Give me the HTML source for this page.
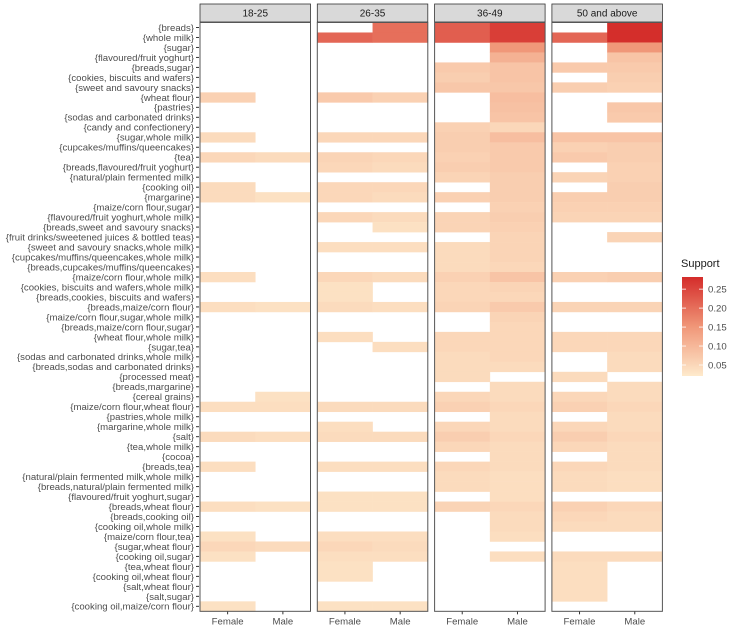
<!DOCTYPE html>
<html><head><meta charset="utf-8"><style>
html,body{margin:0;padding:0;background:#fff;}
svg{display:block;font-family:"Liberation Sans",sans-serif;}
</style></head><body>
<svg id="chart" width="730" height="630" viewBox="0 0 730 630" xmlns="http://www.w3.org/2000/svg"></svg>
<script>
const itemsets = ["{breads}","{whole milk}","{sugar}","{flavoured/fruit yoghurt}","{breads,sugar}","{cookies, biscuits and wafers}","{sweet and savoury snacks}","{wheat flour}","{pastries}","{sodas and carbonated drinks}","{candy and confectionery}","{sugar,whole milk}","{cupcakes/muffins/queencakes}","{tea}","{breads,flavoured/fruit yoghurt}","{natural/plain fermented milk}","{cooking oil}","{margarine}","{maize/corn flour,sugar}","{flavoured/fruit yoghurt,whole milk}","{breads,sweet and savoury snacks}","{fruit drinks/sweetened juices & bottled teas}","{sweet and savoury snacks,whole milk}","{cupcakes/muffins/queencakes,whole milk}","{breads,cupcakes/muffins/queencakes}","{maize/corn flour,whole milk}","{cookies, biscuits and wafers,whole milk}","{breads,cookies, biscuits and wafers}","{breads,maize/corn flour}","{maize/corn flour,sugar,whole milk}","{breads,maize/corn flour,sugar}","{wheat flour,whole milk}","{sugar,tea}","{sodas and carbonated drinks,whole milk}","{breads,sodas and carbonated drinks}","{processed meat}","{breads,margarine}","{cereal grains}","{maize/corn flour,wheat flour}","{pastries,whole milk}","{margarine,whole milk}","{salt}","{tea,whole milk}","{cocoa}","{breads,tea}","{natural/plain fermented milk,whole milk}","{breads,natural/plain fermented milk}","{flavoured/fruit yoghurt,sugar}","{breads,wheat flour}","{breads,cooking oil}","{cooking oil,whole milk}","{maize/corn flour,tea}","{sugar,wheat flour}","{cooking oil,sugar}","{tea,wheat flour}","{cooking oil,wheat flour}","{salt,wheat flour}","{salt,sugar}","{cooking oil,maize/corn flour}"];
const ageGroups = ["18-25","26-35","36-49","50 and above"];
const genders = ["Female","Male"];
const legendTicks = [0.05,0.10,0.15,0.20,0.25];
// support values keyed by row number (1-based), missing = no rule
const s1825F = {8:0.06,12:0.045,14:0.05,17:0.045,18:0.045,26:0.04,29:0.04,39:0.04,42:0.045,45:0.04,49:0.04,52:0.035,53:0.05,54:0.035,59:0.035};
const s1825M = {14:0.045,18:0.035,29:0.035,38:0.035,39:0.04,42:0.04,49:0.035,53:0.045};
const s2635F = {2:0.21,8:0.07,12:0.05,14:0.055,15:0.05,17:0.05,18:0.05,20:0.05,23:0.04,26:0.05,27:0.035,28:0.035,29:0.045,32:0.04,39:0.045,41:0.04,42:0.045,45:0.04,48:0.035,49:0.035,52:0.04,53:0.05,54:0.04,55:0.035,56:0.035,59:0.035};
const s2635M = {1:0.2,2:0.2,8:0.06,12:0.05,14:0.05,15:0.045,17:0.05,18:0.045,20:0.045,21:0.035,23:0.04,26:0.045,29:0.04,33:0.04,39:0.045,42:0.045,45:0.04,48:0.035,49:0.035,52:0.04,53:0.045,54:0.04,59:0.035};
const s3649F = {1:0.22,2:0.22,5:0.07,6:0.065,7:0.075,11:0.06,12:0.065,13:0.065,14:0.06,15:0.065,16:0.055,18:0.06,20:0.055,21:0.055,23:0.045,24:0.045,25:0.045,26:0.06,27:0.05,28:0.05,29:0.055,32:0.05,33:0.05,34:0.045,35:0.045,36:0.045,38:0.05,39:0.06,41:0.05,42:0.065,43:0.05,45:0.05,46:0.045,47:0.045,49:0.055};
const s3649M = {1:0.26,2:0.26,3:0.15,4:0.11,5:0.08,6:0.08,7:0.075,8:0.09,9:0.085,10:0.08,11:0.05,12:0.09,13:0.07,14:0.07,15:0.07,16:0.065,17:0.065,18:0.065,19:0.06,20:0.065,21:0.06,22:0.055,23:0.055,24:0.055,25:0.05,26:0.08,27:0.055,28:0.05,29:0.07,30:0.055,31:0.05,32:0.05,33:0.05,34:0.05,35:0.045,37:0.045,38:0.045,39:0.05,40:0.045,41:0.045,42:0.05,43:0.045,44:0.045,45:0.045,46:0.04,47:0.04,48:0.04,49:0.05,50:0.045,51:0.045,52:0.04,54:0.04};
const s50F = {2:0.21,5:0.07,7:0.065,12:0.08,13:0.06,14:0.07,16:0.055,18:0.065,19:0.06,20:0.055,26:0.06,29:0.055,32:0.05,33:0.05,36:0.045,38:0.05,39:0.06,41:0.05,42:0.065,43:0.05,45:0.05,46:0.045,47:0.045,49:0.06,50:0.05,51:0.045,54:0.045,55:0.04,56:0.04,57:0.04,58:0.04};
const s50M = {1:0.28,2:0.28,3:0.15,4:0.08,5:0.07,6:0.065,7:0.06,9:0.075,10:0.07,12:0.08,13:0.065,14:0.065,15:0.06,16:0.06,17:0.065,18:0.065,19:0.06,20:0.055,22:0.055,26:0.065,29:0.055,32:0.05,33:0.05,34:0.045,35:0.045,37:0.045,38:0.045,39:0.05,40:0.045,41:0.045,42:0.05,43:0.045,44:0.045,45:0.045,46:0.04,47:0.04,49:0.05,50:0.045,51:0.045,54:0.045};

const series = [[s1825F,s1825M],[s2635F,s2635M],[s3649F,s3649M],[s50F,s50M]];
const NS = "http://www.w3.org/2000/svg";
const svg = document.getElementById("chart");
const vmin = 0.021, vmax = 0.282;
const panelX0 = 200, panelPitch = 117.3, panelW = 110.5;
const plotTop = 22.5, rowH = 9.98;
const plotBottom = plotTop + rowH * itemsets.length;
function mk(tag, attrs, parent){const e=document.createElementNS(NS,tag);for(const k in attrs)e.setAttribute(k,attrs[k]);(parent||svg).appendChild(e);return e;}
function color(v){
  let t=(v-vmin)/(vmax-vmin); t=Math.max(0,Math.min(1,t));
  const lo=[254,234,204], mid=[240,150,120], hi=[212,44,42];
  let a,b,u; if(t<0.5){a=lo;b=mid;u=t/0.5;}else{a=mid;b=hi;u=(t-0.5)/0.5;}
  return "rgb("+a.map((c,i)=>Math.round(c+(b[i]-c)*u)).join(",")+")";
}
function yOf(r){return plotTop + r*rowH;}
itemsets.forEach((lab,i)=>{
  const t=mk("text",{x:194,y:yOf(i)+rowH/2+3.4,"text-anchor":"end","font-size":"9.6",fill:"#4d4d4d"});
  t.textContent=lab;
  
  
  const tk=mk("line",{x1:196,x2:199,y1:yOf(i)+rowH/2,y2:yOf(i)+rowH/2,stroke:"#333","stroke-width":1});
  
  
});
ageGroups.forEach((ag,p)=>{
  const x0=panelX0+p*panelPitch;
  const g=mk("g",{});
  
  
  const strip=mk("rect",{x:x0,y:4,width:panelW,height:18,fill:"#d9d9d9",stroke:"#333","stroke-width":0.8},g);
  
  
  const st=mk("text",{x:x0+panelW/2,y:16.5,"text-anchor":"middle","font-size":"10",fill:"#1a1a1a"},g);
  st.textContent=ag;
  
  
  const cw=panelW/2;
  genders.forEach((gd,c)=>{
    const data=series[p][c];
    itemsets.forEach((lab,i)=>{
      const v=data[i+1];
      if(v==null) return;
      const r=mk("rect",{x:x0+c*cw,y:yOf(i),width:cw+0.3,height:rowH+0.3,fill:color(v)},g);
      
      
    });
    const cx=x0+c*cw+cw/2;
    const tk=mk("line",{x1:cx,x2:cx,y1:plotBottom,y2:plotBottom+3,stroke:"#333","stroke-width":1},g);
    
    
    const xt=mk("text",{x:cx,y:plotBottom+13,"text-anchor":"middle","font-size":"9.6",fill:"#4d4d4d"},g);
    xt.textContent=gd;
    
    
  });
  const border=mk("rect",{x:x0,y:plotTop,width:panelW,height:plotBottom-plotTop,fill:"none",stroke:"#555","stroke-width":1},g);
  
  
});
const lg=mk("g",{});


const lt=mk("text",{x:681,y:267,"font-size":"11",fill:"#1a1a1a"},lg);
lt.textContent="Support";


const barTop=277, barBot=376, bx=682, bw=21;
function ly(v){return barBot-(v-vmin)/(vmax-vmin)*(barBot-barTop);}
const defs=mk("defs",{},lg);
const grad=mk("linearGradient",{id:"lgrad",x1:0,y1:1,x2:0,y2:0},defs);
for(let k=0;k<=10;k++){const v=vmin+(vmax-vmin)*k/10;mk("stop",{offset:k/10,"stop-color":color(v)},grad);}
const cb=mk("rect",{x:bx,y:barTop,width:bw,height:barBot-barTop,fill:"url(#lgrad)"},lg);


legendTicks.forEach(v=>{
  const y=ly(v);
  mk("line",{x1:bx,x2:bx+4,y1:y,y2:y,stroke:"#fff","stroke-width":0.8},lg);
  mk("line",{x1:bx+bw-4,x2:bx+bw,y1:y,y2:y,stroke:"#fff","stroke-width":0.8},lg);
  const t=mk("text",{x:708,y:y+3.5,"font-size":"9.6",fill:"#4d4d4d"},lg);
  t.textContent=v.toFixed(2);
  
  
});
</script>
</body></html>
